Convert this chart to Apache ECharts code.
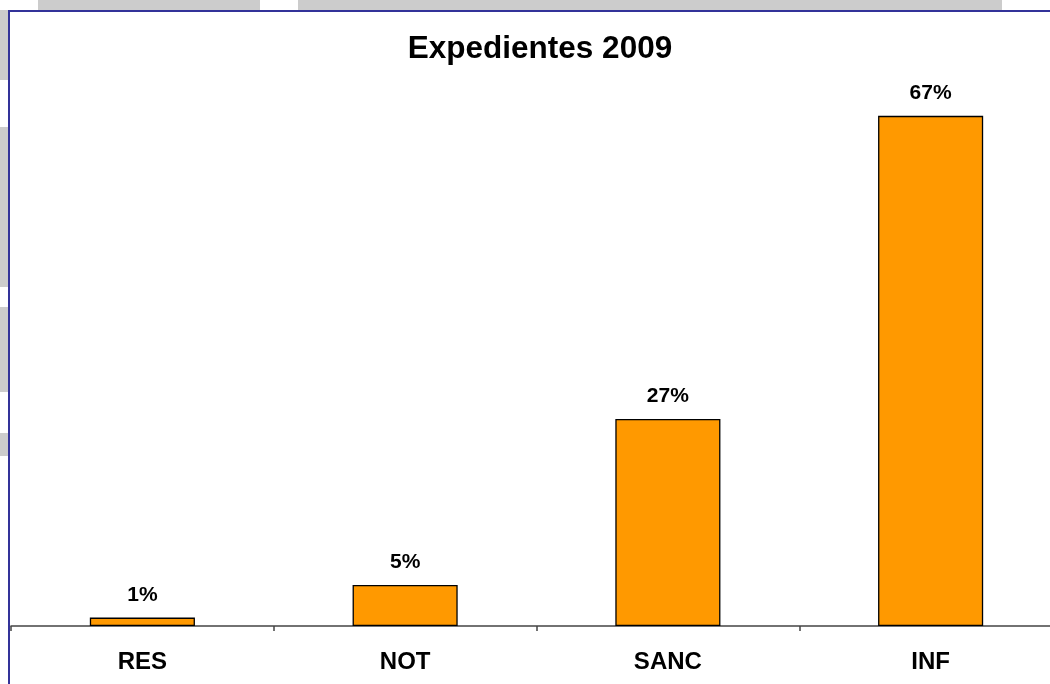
<!DOCTYPE html>
<html>
<head>
<meta charset="utf-8">
<script src="https://cdn.jsdelivr.net/npm/echarts@6/dist/echarts.min.js"></script>
<style>
html,body{margin:0;padding:0;background:#fff;overflow:hidden;width:1050px;height:684px;}
#chart{width:1062px;height:684px;}
</style>
</head>
<body>
<div id="chart"></div>
<script>
const categories = ['RES', 'NOT', 'SANC', 'INF'];
const values = [1.1, 5.4, 27.2, 67.0];
const titleText = 'Expedientes 2009';

const topGray = [[38, 260], [298, 1002]];
const leftGray = [[10, 80], [127, 287], [307, 392], [433, 456]];

const graphics = [];
topGray.forEach(s => graphics.push({type:'rect', shape:{x:s[0], y:0, width:s[1]-s[0], height:10}, style:{fill:'#cccccc'}, silent:true, z:-1}));
leftGray.forEach(s => graphics.push({type:'rect', shape:{x:0, y:s[0], width:8, height:s[1]-s[0]}, style:{fill:'#cccccc'}, silent:true, z:-1}));
graphics.push({type:'polyline', shape:{points:[[9,690],[9,11],[1070,11]]}, style:{stroke:'#333399', lineWidth:2, fill:null}, silent:true, z:-1});

const chart = echarts.init(document.getElementById('chart'));
chart.setOption({
  backgroundColor: '#ffffff',
  animation: false,
  title: {
    text: titleText,
    left: 535,
    textAlign: 'center',
    top: 28,
    textStyle: {fontFamily: 'Liberation Sans, Arial, sans-serif', fontSize: 31.5, fontWeight: 'bold', color: '#000'}
  },
  graphic: graphics,
  grid: {left: 11, right: 0, top: 93, bottom: 58, containLabel: false},
  xAxis: {
    type: 'category',
    data: categories,
    axisLine: {show: true, lineStyle: {color: '#444', width: 1.5}},
    axisTick: {show: true, length: 5, alignWithLabel: false, lineStyle: {color: '#444', width: 1.5}},
    axisLabel: {margin: 24, fontFamily: 'Liberation Sans, Arial, sans-serif', fontSize: 24, fontWeight: 'bold', color: '#000'},
    splitLine: {show: false}
  },
  yAxis: {
    type: 'value', min: 0, max: 70, show: false, splitLine: {show: false}
  },
  series: [{
    type: 'bar',
    data: values,
    barWidth: '40%',
    itemStyle: {color: '#FF9900', borderColor: '#000', borderWidth: 1.3},
    label: {
      show: true, position: 'top', distance: 12,
      formatter: p => Math.round(p.value) + '%',
      fontFamily: 'Liberation Sans, Arial, sans-serif', fontSize: 21, fontWeight: 'bold', color: '#000'
    }
  }]
});
</script>
</body>
</html>
